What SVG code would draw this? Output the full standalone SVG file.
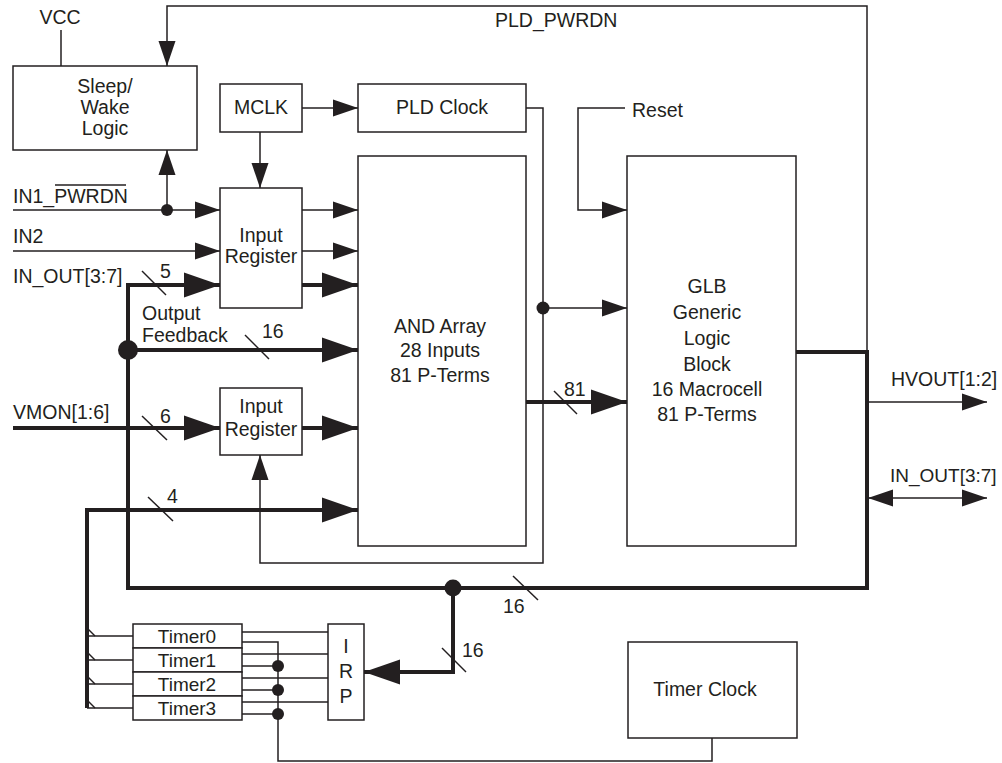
<svg xmlns="http://www.w3.org/2000/svg" width="1002" height="763" viewBox="0 0 1002 763">
<style>
text{font-family:"Liberation Sans",Arial,sans-serif;font-size:19.5px;fill:#231f20}
.m{text-anchor:middle}
.s{font-size:19px}
.box{fill:#fff;stroke:#231f20;stroke-width:1.5}
.t{fill:none;stroke:#231f20;stroke-width:1.5}
.k{fill:none;stroke:#231f20;stroke-width:4;stroke-linejoin:miter}
.d{fill:#231f20}
</style>
<defs>
<marker id="a" markerUnits="userSpaceOnUse" markerWidth="26" markerHeight="18" refX="25" refY="8.5" orient="auto" overflow="visible"><path d="M0,0 L25,8.5 L0,17 z" fill="#231f20"/></marker>
<marker id="as" markerUnits="userSpaceOnUse" markerWidth="26" markerHeight="18" refX="0" refY="8.5" orient="auto" overflow="visible"><path d="M25,0 L0,8.5 L25,17 z" fill="#231f20"/></marker>
<marker id="b" markerUnits="userSpaceOnUse" markerWidth="37" markerHeight="26" refX="36" refY="12.5" orient="auto" overflow="visible"><path d="M0,0 L36,12.5 L0,25 z" fill="#231f20"/></marker>
</defs>

<g id="connectors">
<line class="t" x1="61" y1="30" x2="61" y2="66"/>
<polyline class="t" points="867,352 867,6 167,6 167,66" marker-end="url(#a)"/>
<line class="t" x1="13" y1="210" x2="220" y2="210" marker-end="url(#a)"/>
<line class="t" x1="167" y1="210" x2="167" y2="150" marker-end="url(#a)"/>
<circle class="d" cx="167" cy="210" r="6"/>
<line class="t" x1="13" y1="251" x2="220" y2="251" marker-end="url(#a)"/>
<polyline class="k" points="220,285 128,285 128,588 867,588 867,352 796,352"/>
<line class="k" x1="128" y1="285" x2="220" y2="285" marker-end="url(#b)"/>
<line class="t" x1="142" y1="271" x2="166" y2="295"/>
<line class="k" x1="128" y1="350" x2="358" y2="350" marker-end="url(#b)"/>
<circle class="d" cx="128" cy="350" r="10"/>
<line class="t" x1="245" y1="335" x2="269" y2="359"/>
<line class="t" x1="302" y1="108" x2="358" y2="108" marker-end="url(#a)"/>
<line class="t" x1="260" y1="132" x2="260" y2="188" marker-end="url(#a)"/>
<line class="t" x1="302" y1="210" x2="358" y2="210" marker-end="url(#a)"/>
<line class="t" x1="302" y1="251" x2="358" y2="251" marker-end="url(#a)"/>
<line class="k" x1="302" y1="285" x2="358" y2="285" marker-end="url(#b)"/>
<line class="k" x1="13" y1="428" x2="220" y2="428" marker-end="url(#b)"/>
<line class="t" x1="142" y1="416" x2="167" y2="440"/>
<line class="k" x1="302" y1="428" x2="358" y2="428" marker-end="url(#b)"/>
<polyline class="k" points="87,708 87,510 358,510" marker-end="url(#b)"/>
<line class="t" x1="148" y1="497" x2="173" y2="521"/>
<polyline class="t" points="526,108 543,108 543,563 260,563 260,455" marker-end="url(#a)"/>
<line class="t" x1="543" y1="308" x2="627" y2="308" marker-end="url(#a)"/>
<circle class="d" cx="543" cy="308" r="6.5"/>
<polyline class="t" points="625,108 578,108 578,210 627,210" marker-end="url(#a)"/>
<line class="k" x1="526" y1="402" x2="627" y2="402" marker-end="url(#b)"/>
<line class="t" x1="554" y1="391" x2="577" y2="414"/>
<line class="t" x1="867" y1="402" x2="987" y2="402" marker-end="url(#a)"/>
<line class="t" x1="868" y1="498" x2="987" y2="498" marker-start="url(#as)" marker-end="url(#a)"/>
<line class="t" x1="513" y1="576" x2="538" y2="600"/>
<polyline class="k" points="453,588 453,672 364,672" marker-end="url(#b)"/>
<circle class="d" cx="453" cy="588" r="8.5"/>
<line class="t" x1="442" y1="648" x2="466" y2="672"/>
<line class="t" x1="87" y1="636" x2="133" y2="636"/>
<line class="t" x1="87" y1="628" x2="95" y2="636"/>
<line class="t" x1="87" y1="660" x2="133" y2="660"/>
<line class="t" x1="87" y1="652" x2="95" y2="660"/>
<line class="t" x1="87" y1="684" x2="133" y2="684"/>
<line class="t" x1="87" y1="676" x2="95" y2="684"/>
<line class="t" x1="87" y1="708" x2="133" y2="708"/>
<line class="t" x1="87" y1="700" x2="95" y2="708"/>
<line class="t" x1="242" y1="632" x2="328" y2="632"/>
<line class="t" x1="242" y1="654" x2="328" y2="654"/>
<line class="t" x1="242" y1="678" x2="328" y2="678"/>
<line class="t" x1="242" y1="702" x2="328" y2="702"/>
<polyline class="t" points="242,642 278,642 278,761 712,761 712,738"/>
<line class="t" x1="242" y1="666" x2="278" y2="666"/>
<line class="t" x1="242" y1="690" x2="278" y2="690"/>
<line class="t" x1="242" y1="714" x2="278" y2="714"/>
<circle class="d" cx="278" cy="666" r="6"/>
<circle class="d" cx="278" cy="690" r="6"/>
<circle class="d" cx="278" cy="714" r="6"/>
</g>

<g id="labels">
<text x="60" y="24" class="m">VCC</text>
<text x="495" y="27">PLD_PWRDN</text>
<text x="13" y="203">IN1_PWRDN</text>
<line class="t" x1="55" y1="185" x2="126" y2="185"/>
<text x="13" y="243">IN2</text>
<text x="13" y="283">IN_OUT[3:7]</text>
<text x="160" y="278">5</text>
<text x="142" y="320">Output</text>
<text x="142" y="342">Feedback</text>
<text x="262" y="338">16</text>
<text x="13" y="419">VMON[1:6]</text>
<text x="160" y="423">6</text>
<text x="167" y="503">4</text>
<text x="632" y="117">Reset</text>
<text x="564" y="396">81</text>
<text x="891" y="386">HVOUT[1:2]</text>
<text x="890" y="482" style="font-size:19px">IN_OUT[3:7]</text>
<text x="503" y="613">16</text>
<text x="462" y="657">16</text>
</g>

<g id="sleep-wake">
<rect class="box" x="13" y="66" width="184" height="84"/>
<text x="105" y="93" class="m">Sleep/</text>
<text x="105" y="114" class="m">Wake</text>
<text x="105" y="135" class="m">Logic</text>
</g>
<g id="mclk">
<rect class="box" x="220" y="84" width="82" height="48"/>
<text x="261" y="114" class="m">MCLK</text>
</g>
<g id="pld-clock">
<rect class="box" x="358" y="84" width="168" height="48"/>
<text x="442" y="114" class="m">PLD Clock</text>
</g>
<g id="input-register-1">
<rect class="box" x="220" y="188" width="82" height="120"/>
<text x="261" y="242" class="m">Input</text>
<text x="261" y="263" class="m">Register</text>
</g>
<g id="input-register-2">
<rect class="box" x="220" y="388" width="82" height="67"/>
<text x="261" y="413" class="m">Input</text>
<text x="261" y="436" class="m">Register</text>
</g>
<g id="and-array">
<rect class="box" x="358" y="156" width="168" height="390"/>
<text x="440" y="333" class="m">AND Array</text>
<text x="440" y="357" class="m">28 Inputs</text>
<text x="440" y="382" class="m">81 P-Terms</text>
</g>
<g id="glb">
<rect class="box" x="627" y="156" width="169" height="390"/>
<text x="707" y="293" class="m">GLB</text>
<text x="707" y="319" class="m">Generic</text>
<text x="707" y="345" class="m">Logic</text>
<text x="707" y="371" class="m">Block</text>
<text x="707" y="396" class="m">16 Macrocell</text>
<text x="707" y="421" class="m">81 P-Terms</text>
</g>
<g id="timers">
<rect class="box" x="133" y="624" width="109" height="24"/>
<text x="187" y="643" class="m s">Timer0</text>
<rect class="box" x="133" y="648" width="109" height="24"/>
<text x="187" y="667" class="m s">Timer1</text>
<rect class="box" x="133" y="672" width="109" height="24"/>
<text x="187" y="691" class="m s">Timer2</text>
<rect class="box" x="133" y="696" width="109" height="24"/>
<text x="187" y="715" class="m s">Timer3</text>
</g>
<g id="irp">
<rect class="box" x="328" y="624" width="36" height="96"/>
<text x="346" y="653" class="m">I</text>
<text x="346" y="678" class="m">R</text>
<text x="346" y="703" class="m">P</text>
</g>
<g id="timer-clock">
<rect class="box" x="628" y="642" width="169" height="96"/>
<text x="705" y="696" class="m">Timer Clock</text>
</g>
</svg>
